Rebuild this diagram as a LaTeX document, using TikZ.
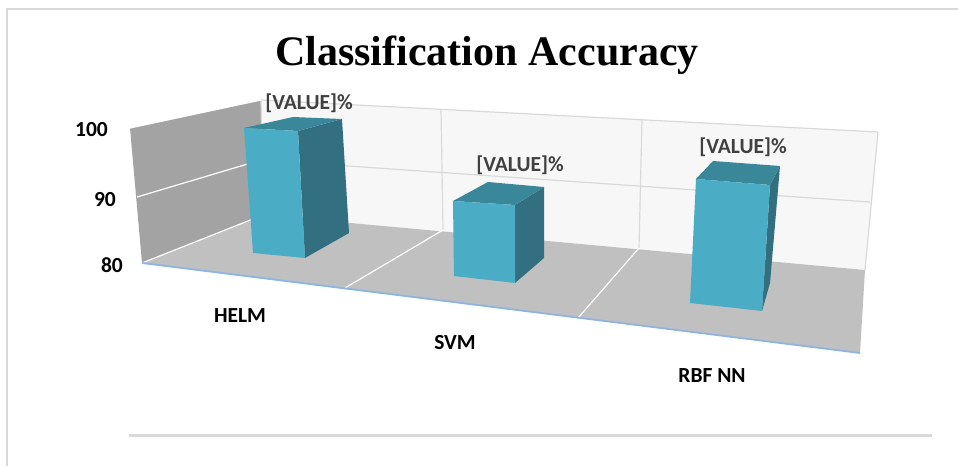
\documentclass[tikz,border=0pt]{standalone}
\usepackage{fontspec}
\setmainfont{Liberation Serif}
\newfontfamily\chartfont{Carlito}

\definecolor{cfront}{RGB}{75,172,198}
\definecolor{cside}{RGB}{49,111,129}
\definecolor{ctop}{RGB}{58,135,153}
\definecolor{wallgray}{RGB}{163,163,163}
\definecolor{floorgray}{RGB}{192,192,192}
\definecolor{backwall}{RGB}{247,247,247}
\definecolor{gridgray}{RGB}{217,217,217}
\definecolor{edgeblue}{RGB}{141,180,226}
\definecolor{valuegray}{RGB}{64,64,64}

\tikzstyle{frontface} = [fill=cfront]
\tikzstyle{sideface} = [fill=cside]
\tikzstyle{topface} = [fill=ctop]

\begin{document}
\begin{tikzpicture}[x=1pt,y=-1pt,
		tick/.style={font=\chartfont\bfseries\fontsize{21.5}{22}\selectfont, anchor=east, inner sep=0pt},
		category/.style={font=\chartfont\bfseries\fontsize{21.5}{22}\selectfont, inner sep=0pt},
		value/.style={font=\chartfont\bfseries\fontsize{21.5}{22}\selectfont, text=valuegray, inner sep=0pt},
		gridline/.style={gridgray, line width=1.2pt},
		floorline/.style={white, line width=1.2pt}]
	\useasboundingbox (0,0) rectangle (958,466);

	% walls and floor
	\coordinate (lwtop) at (130,128);
	\coordinate (lwbot) at (142,263);
	\coordinate (bwtl) at (261,100);
	\coordinate (bwbl) at (263,215);
	\coordinate (bwtr) at (878,132);
	\coordinate (bwbr) at (865,270);
	\coordinate (flfr) at (860,353);
	\fill[backwall] (bwtl) -- (bwtr) -- (bwbr) -- (bwbl) -- cycle;
	\fill[wallgray] (lwtop) -- (bwtl) -- (bwbl) -- (lwbot) -- cycle;
	\fill[floorgray] (lwbot) -- (bwbl) -- (bwbr) -- (flfr) -- cycle;

	% grid
	\draw[gridline] (bwbl) -- (bwtl) -- (bwtr) -- (bwbr);
	\draw[gridline] (261,160) -- (870,202);
	\draw[gridline] (441,109) -- (443,230);
	\draw[gridline] (642,120) -- (639,248);
	\draw[floorline] (137,197) -- (261,160);
	\draw[floorline] (lwtop) -- (bwtl);
	\draw[floorline] (lwbot) -- (bwbl);
	\draw[floorline] (443,230) -- (345,288);
	\draw[floorline] (639,248) -- (578,318);
	\draw[edgeblue, line width=1.8pt] (lwbot) -- (flfr);

	% HELM
	\fill[sideface] (298,131) -- (342,119) -- (349,233) -- (305,258) -- cycle;
	\fill[topface] (244,128) -- (293,117) -- (342,119) -- (298,131) -- cycle;
	\fill[frontface] (244,128) -- (298,131) -- (305,258) -- (253,253) -- cycle;
	% SVM
	\fill[sideface] (515,205) -- (544,187) -- (544,258) -- (515,283) -- cycle;
	\fill[topface] (453,201) -- (488,182) -- (544,187) -- (515,205) -- cycle;
	\fill[frontface] (453,201) -- (515,205) -- (515,283) -- (454,276) -- cycle;
	% RBF NN
	\fill[sideface] (770,185) -- (780,166) -- (770,283) -- (762,311) -- cycle;
	\fill[topface] (696,179) -- (713,161) -- (780,166) -- (770,185) -- cycle;
	\fill[frontface] (696,179) -- (770,185) -- (762,311) -- (690,303) -- cycle;

	% labels
	\node (title) [anchor=base, font=\bfseries\fontsize{42}{42}\selectfont] at (487,65) {Classification Accuracy};
	\node (t100) [tick] at (108,130) {100};
	\node (t90) [tick] at (116,200) {90};
	\node (t80) [tick] at (123,265) {80};
	\node (helm) [category] at (240,316) {HELM};
	\node (svm) [category] at (455,343) {SVM};
	\node (rbf) [category] at (712,376) {RBF NN};
	\node (v1) [value] at (309,103) {[VALUE]\%};
	\node (v2) [value] at (520,165) {[VALUE]\%};
	\node (v3) [value] at (743,147) {[VALUE]\%};

	% chart frame
	\draw[gridgray, line width=2pt] (958,9) -- (7,9) -- (7,466);
	\draw[gridgray, line width=3pt] (129,435) -- (932,435);
\end{tikzpicture}
\end{document}
